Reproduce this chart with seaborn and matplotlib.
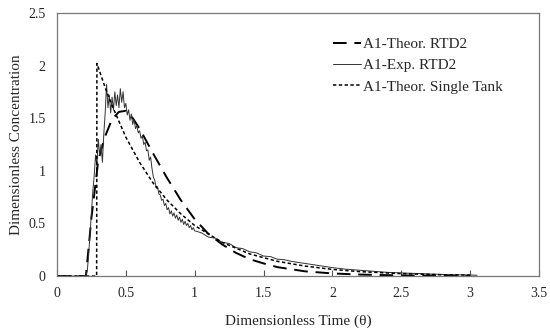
import pandas as pd
import matplotlib
matplotlib.use("Agg")
import matplotlib.pyplot as plt
import seaborn as sns

# A1-Theor. RTD2 (long dashes)
theta_rtd2 = [0.0, 0.21, 0.25, 0.30, 0.35, 0.40, 0.45, 0.50, 0.55, 0.60, 0.65, 0.70,
              0.80, 0.90, 1.00, 1.10, 1.20, 1.30, 1.40, 1.50, 1.60, 1.80, 2.00,
              2.20, 2.50, 3.00]
conc_rtd2 = [0.0, 0.0, 0.55, 1.10, 1.33, 1.49, 1.56, 1.57, 1.50, 1.40, 1.28, 1.16,
             0.93, 0.72, 0.54, 0.40, 0.30, 0.22, 0.16, 0.12, 0.085, 0.045, 0.025,
             0.014, 0.006, 0.002]

# A1-Exp. RTD2 (thin solid, noisy)
theta_exp = [0.0, 0.20, 0.21, 0.22, 0.23, 0.24, 0.25, 0.26, 0.27, 0.28, 0.29,
             0.30, 0.31, 0.32, 0.33, 0.34, 0.35, 0.36, 0.37, 0.38, 0.39,
             0.40, 0.41, 0.42, 0.43, 0.44, 0.45, 0.46, 0.47, 0.48, 0.49,
             0.50, 0.51, 0.52, 0.53, 0.54, 0.55, 0.56, 0.57, 0.58, 0.59,
             0.60, 0.61, 0.62, 0.63, 0.64, 0.65, 0.66, 0.67, 0.68, 0.69,
             0.70, 0.71, 0.72, 0.73, 0.74, 0.75, 0.76, 0.77, 0.78, 0.79,
             0.80, 0.81, 0.82, 0.83, 0.84, 0.85, 0.86, 0.87, 0.88, 0.89,
             0.90, 0.91, 0.92, 0.93, 0.94, 0.95, 0.96, 0.97, 0.98, 0.99,
             1.00, 1.05, 1.10, 1.15, 1.20, 1.25, 1.30, 1.35, 1.40, 1.45,
             1.50, 1.55, 1.60, 1.65, 1.70, 1.75, 1.80, 1.85, 1.90, 1.95,
             2.00, 2.10, 2.20, 2.30, 2.40, 2.50, 2.60, 2.70, 2.80, 2.90,
             3.00, 3.05]
conc_exp = [0.0, 0.0, 0.0, 0.05, 0.20, 0.40, 0.60, 0.80, 0.95, 1.15, 1.05,
            1.30, 1.15, 1.25, 1.08, 1.35, 1.55, 1.82, 1.60, 1.72, 1.55,
            1.70, 1.58, 1.75, 1.62, 1.72, 1.60, 1.78, 1.65, 1.75, 1.60,
            1.64, 1.53, 1.58, 1.48, 1.54, 1.44, 1.49, 1.40, 1.43, 1.36,
            1.38, 1.31, 1.33, 1.25, 1.27, 1.19, 1.20, 1.10, 1.13, 1.02,
            0.94, 0.91, 0.84, 0.85, 0.78, 0.77, 0.72, 0.73, 0.67, 0.69,
            0.63, 0.65, 0.59, 0.62, 0.57, 0.60, 0.55, 0.58, 0.53, 0.56,
            0.51, 0.54, 0.49, 0.52, 0.48, 0.50, 0.46, 0.48, 0.44, 0.46,
            0.43, 0.41, 0.37, 0.36, 0.32, 0.31, 0.27, 0.26, 0.23, 0.22,
            0.19, 0.185, 0.16, 0.155, 0.14, 0.13, 0.12, 0.11, 0.10, 0.09,
            0.08, 0.065, 0.055, 0.045, 0.035, 0.03, 0.025, 0.02, 0.015, 0.012,
            0.01, 0.008]

# A1-Theor. Single Tank (short dashes)
theta_tank = [0.0, 0.288, 0.29, 0.35, 0.40, 0.50, 0.60, 0.70, 0.80, 0.90, 1.00,
              1.20, 1.40, 1.60, 1.80, 2.00, 2.20, 2.50, 2.80, 3.00]
conc_tank = [0.0, 0.0, 2.02, 1.79, 1.62, 1.32, 1.08, 0.88, 0.72, 0.59, 0.48,
             0.32, 0.21, 0.14, 0.095, 0.063, 0.042, 0.023, 0.012, 0.009]

sns.set_theme(style="white")
plt.rcParams['font.family'] = ['Liberation Serif', 'DejaVu Serif']

fig = plt.figure(figsize=(5.5, 3.31), dpi=100)
ax = fig.add_axes([0.1036, 0.166, 0.8764, 0.795])

df_rtd2 = pd.DataFrame({'t': theta_rtd2, 'c': conc_rtd2})
df_exp = pd.DataFrame({'t': theta_exp, 'c': conc_exp})
df_tank = pd.DataFrame({'t': theta_tank, 'c': conc_tank})

sns.lineplot(data=df_rtd2, x='t', y='c', ax=ax, color='black', lw=1.4,
             label='A1-Theor. RTD2', sort=False, estimator=None)
ax.lines[-1].set_dashes([7, 4])
sns.lineplot(data=df_exp, x='t', y='c', ax=ax, color='#333333', lw=0.7,
             label='A1-Exp. RTD2', sort=False, estimator=None)
sns.lineplot(data=df_tank, x='t', y='c', ax=ax, color='black', lw=1.1,
             label='A1-Theor. Single Tank', sort=False, estimator=None)
ax.lines[-1].set_dashes([2.2, 1.6])

ax.set_xlim(0, 3.5)
ax.set_ylim(0, 2.5)
ax.set_xticks([0, 0.5, 1, 1.5, 2, 2.5, 3, 3.5])
ax.set_xticklabels(['0', '0.5', '1', '1.5', '2', '2.5', '3', '3.5'])
ax.set_yticks([0, 0.5, 1, 1.5, 2, 2.5])
ax.set_yticklabels(['0', '0.5', '1', '1.5', '2', '2.5'])
ax.tick_params(axis='x', direction='in', length=4, width=0.8, color='#555555',
               labelsize=10, pad=8, bottom=True)
ax.tick_params(axis='y', length=0, labelsize=10, pad=8)
for s in ax.spines.values():
    s.set_color('#777777')
    s.set_linewidth(0.9)

ax.set_xlabel('Dimensionless Time (θ)', fontsize=11, labelpad=10)
ax.set_ylabel('Dimensionless Concentration', fontsize=11, labelpad=4)

leg = ax.legend(loc='upper left', bbox_to_anchor=(0.545, 0.96), frameon=False,
                fontsize=11, handlelength=1.8, handletextpad=0.15,
                labelspacing=0.5)

fig.savefig('out.png', dpi=100)
